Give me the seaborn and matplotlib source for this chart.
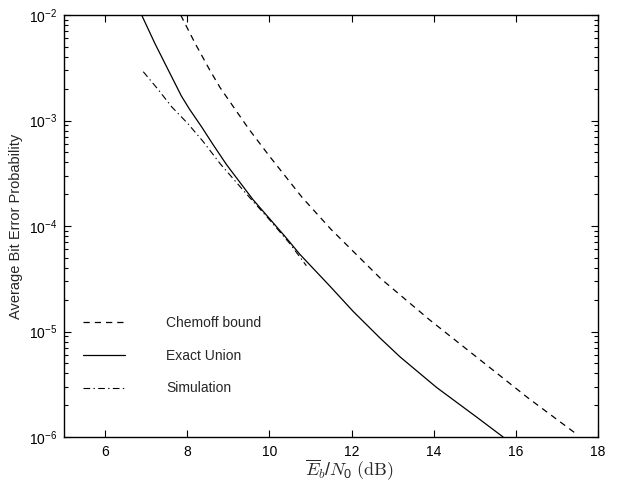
import numpy as np
import pandas as pd
import matplotlib
matplotlib.use("Agg")
import matplotlib.pyplot as plt
import seaborn as sns
from matplotlib.ticker import LogLocator, NullFormatter, FixedLocator

# ---- data ----
chernoff_x = [7.84, 8.19, 8.55, 8.8, 9.5, 10.0, 10.8, 11.5, 12.7, 13.9, 15.1, 16.3, 17.5]
chernoff_y = [1.0e-2, 5.4e-3, 3.0e-3, 2.05e-3, 8.3e-4, 4.6e-4, 1.86e-4, 9.3e-5, 3.2e-5,
              1.29e-5, 5.5e-6, 2.34e-6, 1.05e-6]

union_x = [6.89, 7.21, 7.54, 7.86, 8.05, 8.35, 8.63, 8.96, 9.6, 10.4, 10.74, 11.47,
           12.04, 12.69, 13.18, 14.07, 15.04, 15.69]
union_y = [1.0e-2, 5.4e-3, 3.0e-3, 1.7e-3, 1.29e-3, 8.7e-4, 5.9e-4, 3.8e-4, 1.78e-4,
           7.8e-5, 5.4e-5, 2.7e-5, 1.55e-5, 8.7e-6, 5.75e-6, 2.95e-6, 1.55e-6, 1.0e-6]

sim_x = [6.93, 7.3, 7.62, 8.02, 8.39, 8.8, 9.4, 10.0, 10.5, 10.9]
sim_y = [2.9e-3, 1.95e-3, 1.35e-3, 9.3e-4, 6.3e-4, 3.9e-4, 2.1e-4, 1.15e-4, 6.8e-5, 4.2e-5]

series_labels = ["Chemoff bound", "Exact Union", "Simulation"]
x_ticks = [6, 8, 10, 12, 14, 16, 18]

sns.set_style("ticks")
plt.rcParams["font.family"] = ["Liberation Sans", "DejaVu Sans"]
plt.rcParams["mathtext.fontset"] = "custom"
plt.rcParams["mathtext.rm"] = "Liberation Sans"
plt.rcParams["mathtext.it"] = "Liberation Sans:italic"
plt.rcParams["mathtext.default"] = "regular"

fig = plt.figure(figsize=(6.17, 4.84), dpi=100)
ax = fig.add_axes([64 / 617, 1 - 437 / 484, (598 - 64) / 617, (437 - 15) / 484])

sns.lineplot(x=chernoff_x, y=chernoff_y, ax=ax, color="black", linewidth=0.9,
             label=series_labels[0])
sns.lineplot(x=union_x, y=union_y, ax=ax, color="black", linewidth=0.9,
             label=series_labels[1])
sns.lineplot(x=sim_x, y=sim_y, ax=ax, color="black", linewidth=0.8,
             label=series_labels[2])
lines = ax.get_lines()
lines[0].set_dashes([5, 4])
lines[1].set_linestyle("-")
lines[2].set_dashes([6, 3, 1.2, 3])

ax.set_yscale("log")
ax.set_xlim(5, 18)
ax.set_ylim(1e-6, 1e-2)
ax.xaxis.set_major_locator(FixedLocator(x_ticks))
ax.yaxis.set_major_locator(LogLocator(base=10, numticks=10))
ax.yaxis.set_minor_locator(LogLocator(base=10, subs=np.arange(2, 10), numticks=20))
ax.yaxis.set_minor_formatter(NullFormatter())

ax.tick_params(which="both", direction="in", top=True, right=True,
               labelsize=10, colors="black", width=0.8)
ax.tick_params(which="major", length=5)
ax.tick_params(axis="x", which="major", pad=6)
ax.tick_params(axis="y", which="major", pad=5)
ax.tick_params(which="minor", length=3)
for s in ax.spines.values():
    s.set_linewidth(1.0)
    s.set_color("black")

ax.set_ylabel("Average Bit Error Probability", fontsize=10.5, labelpad=4)
ax.set_xlabel(r"$\overline{\mathit{E}}_{\mathit{b}}/\mathit{N}_0\ \mathrm{(dB)}$",
              fontsize=13, math_fontfamily="cm")
ax.xaxis.set_label_coords(0.534, -0.05)

leg = ax.legend(loc="upper left", bbox_to_anchor=(83 / 617, 1 - 316 / 484),
                bbox_transform=fig.transFigure, frameon=False, fontsize=10,
                handlelength=3.0, handletextpad=3.0, labelspacing=1.35,
                borderpad=0, borderaxespad=0)

fig.savefig("out.png", dpi=100, facecolor="white")
